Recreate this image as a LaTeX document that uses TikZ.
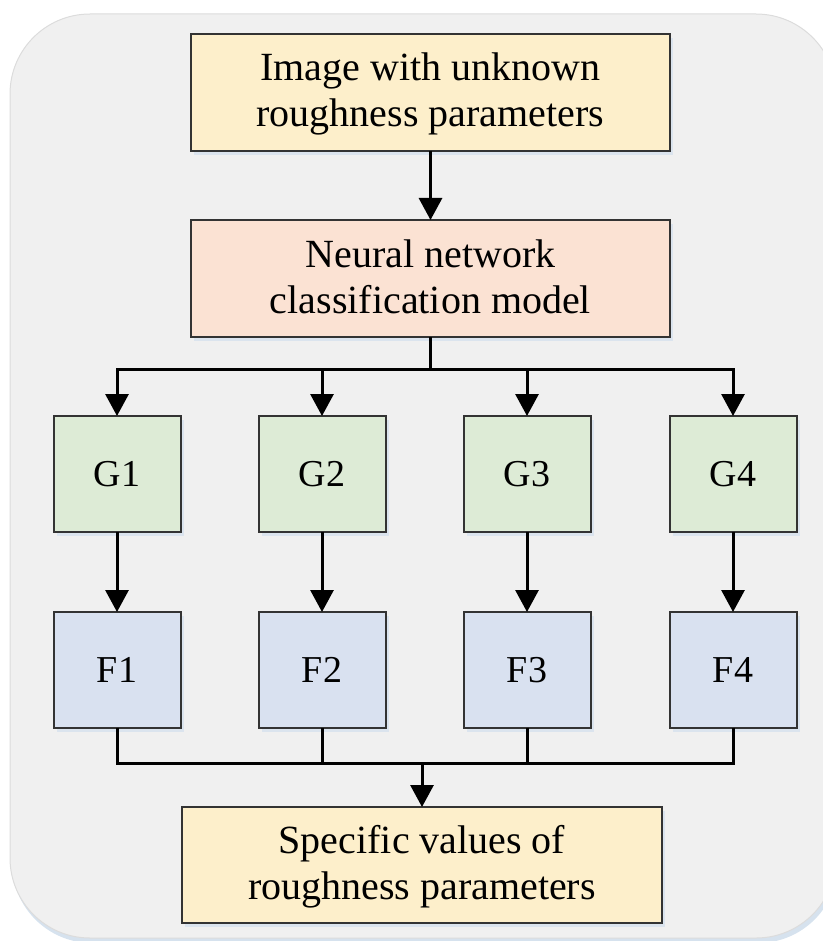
\documentclass[tikz,border=0pt]{standalone}
\usepackage{fontspec}
\setmainfont{Liberation Serif}
\usetikzlibrary{arrows.meta}
\definecolor{bgc}{HTML}{F0F0F0}
\definecolor{bgedge}{HTML}{DCDCDC}
\definecolor{shadowc}{HTML}{D6E2EE}
\definecolor{creamc}{HTML}{FDEFCB}
\definecolor{peachc}{HTML}{FBE2D3}
\definecolor{greenc}{HTML}{DDEBD6}
\definecolor{bluec}{HTML}{D9E1F0}
\definecolor{edgec}{HTML}{333333}
\tikzset{
  boxbase/.style={draw=edgec, line width=2pt, inner sep=0pt, outer sep=0pt, align=center,
    font=\fontsize{40}{46}\selectfont},
  widebox/.style={boxbase, minimum width=479pt, minimum height=117pt, text height=78pt, text depth=9pt},
  smallbox/.style={boxbase, minimum width=127pt, minimum height=116pt, font=\fontsize{38}{44}\selectfont},
  conn/.style={line width=3pt, black},
  arr/.style={conn, -{Triangle[length=22pt,width=23pt]}},
}
\begin{document}
\begin{tikzpicture}[x=1pt,y=-1pt]
\useasboundingbox (0,0) rectangle (822,941);
% background panel
\fill[shadowc, rounded corners=80pt] (12,18) rectangle (838,943);
\path[fill=bgc, draw=bgedge, line width=1pt, rounded corners=80pt] (10,14) rectangle (836,938);
% shadows of boxes
\foreach \cx/\cy/\w/\h in {430.5/92.5/479/117, 430.5/278.5/479/117, 422/865/480/116,
  117/474/127/116, 322/474/127/116, 527/474/127/116, 733/474/127/116,
  117/670/127/116, 322/670/127/116, 527/670/127/116, 733/670/127/116}
  \fill[shadowc, opacity=0.8] ({\cx-\w/2+3},{\cy-\h/2+4}) rectangle ({\cx+\w/2+3},{\cy+\h/2+4});
% nodes
\node[widebox, fill=creamc] (img) at (430.5,92.5) {Image with unknown\\roughness parameters};
\node[widebox, fill=peachc] (nn) at (430.5,278.5) {Neural network\\classification model};
\node[smallbox, fill=greenc] (G1) at (117,474) {G1};
\node[smallbox, fill=greenc] (G2) at (322,474) {G2};
\node[smallbox, fill=greenc] (G3) at (527,474) {G3};
\node[smallbox, fill=greenc] (G4) at (733,474) {G4};
\node[smallbox, fill=bluec] (F1) at (117,670) {F1};
\node[smallbox, fill=bluec] (F2) at (322,670) {F2};
\node[smallbox, fill=bluec] (F3) at (527,670) {F3};
\node[smallbox, fill=bluec] (F4) at (733,670) {F4};
\node[widebox, minimum width=480pt, minimum height=116pt, fill=creamc] (out) at (422,865) {Specific values of\\roughness parameters};
\coordinate (s1) at (430.5,369);
\coordinate (s2) at (422,763);
% connectors
\draw[arr] (img) -- (nn);
\draw[conn] (nn.south) -- (s1);
\foreach \g in {G1,G2,G3,G4}
  \draw[arr] (s1) -| (\g.north);
\foreach \g/\f in {G1/F1,G2/F2,G3/F3,G4/F4}
  \draw[arr] (\g) -- (\f);
\foreach \f in {F1,F2,F3,F4}
  \draw[conn] (\f.south) |- (s2);
\draw[arr] (s2) -- (out.north);
\end{tikzpicture}
\end{document}
